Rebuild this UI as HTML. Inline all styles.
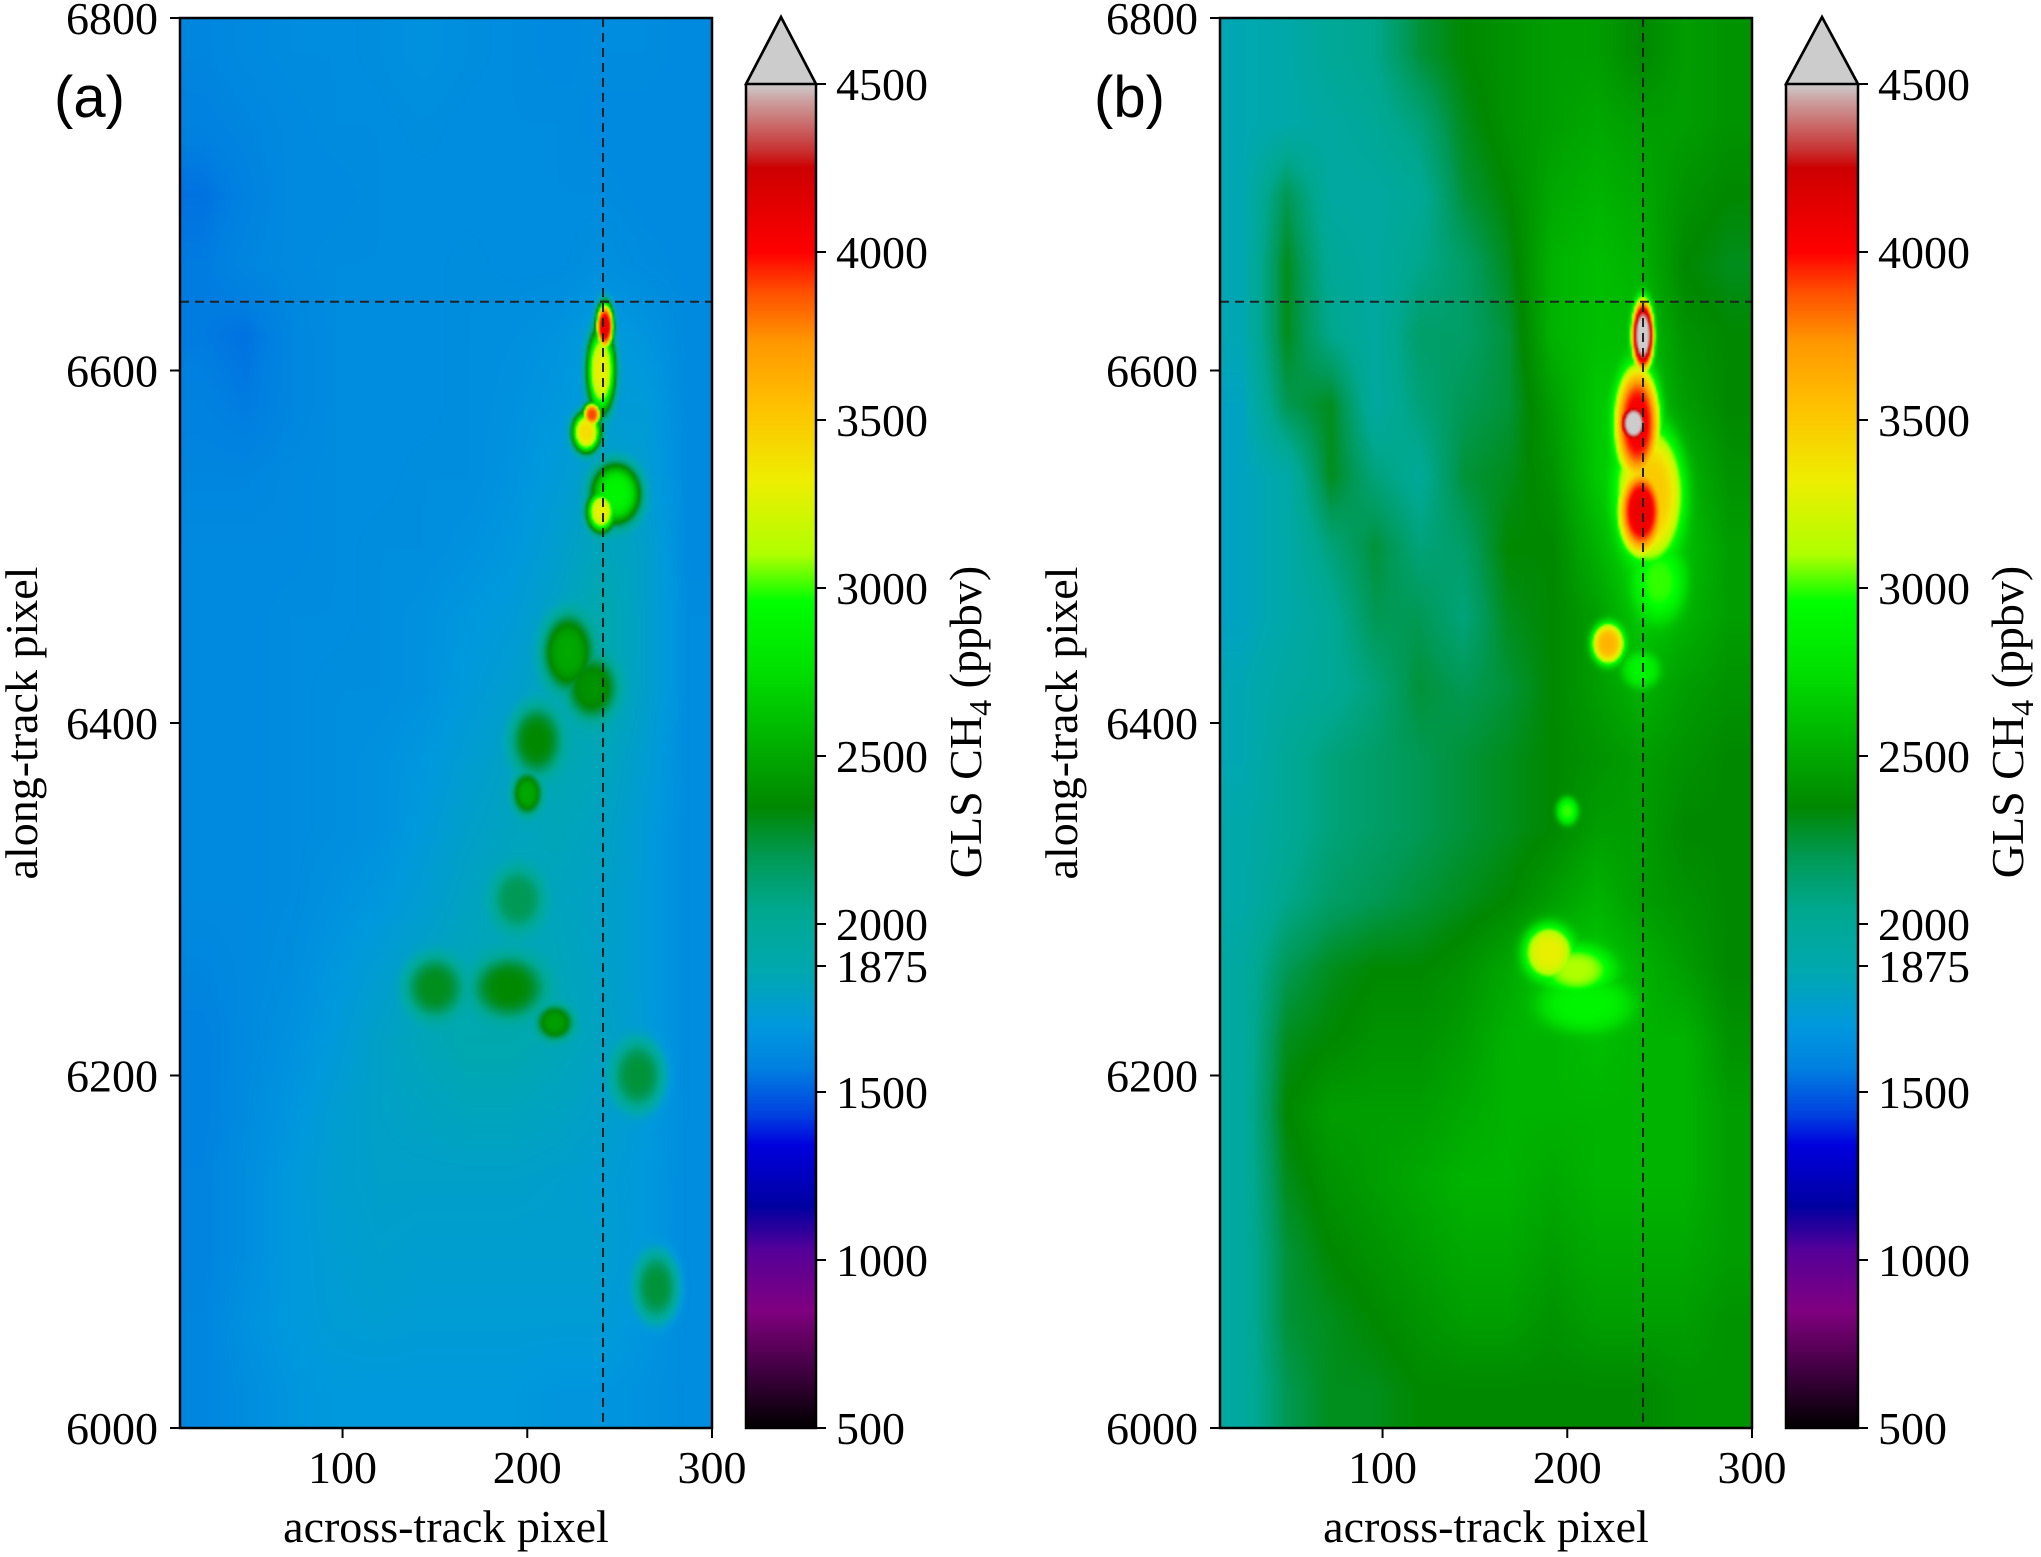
<!DOCTYPE html>
<html><head><meta charset="utf-8">
<style>
html,body{margin:0;padding:0;background:#fff;}
#root{position:relative;width:2041px;height:1557px;overflow:hidden;font-family:"Liberation Serif",serif;}
canvas{position:absolute;image-rendering:auto;}
svg{position:absolute;left:0;top:0;}
</style></head><body>
<div id="root">
<canvas id="hmA" width="266" height="705" style="left:180px;top:18px;width:532px;height:1410px"></canvas>
<canvas id="hmB" width="266" height="705" style="left:1220px;top:18px;width:532px;height:1410px"></canvas>
<canvas id="cbA" width="1" height="1344" style="left:746px;top:84px;width:70px;height:1344px"></canvas>
<canvas id="cbB" width="1" height="1344" style="left:1786px;top:84px;width:72px;height:1344px"></canvas>
<svg id="ov" width="2041" height="1557"></svg>
</div>
<script>
// ---- data ----
const xTicks=[100,200,300];
const yTicks=[6000,6200,6400,6600,6800];
const cbTicks=[500,1000,1500,1875,2000,2500,3000,3500,4000,4500];
const crossAcross=241;
const crossAlong=6639;
// background grids (rows from along 6780 down to 6020, cols across 24..288)
const gridA=[
[1600,1620,1630,1630,1640,1660,1640,1630,1620,1630,1630,1620],
[1580,1600,1620,1630,1630,1640,1630,1630,1630,1620,1620,1620],
[1540,1580,1620,1620,1630,1630,1630,1630,1630,1630,1620,1620],
[1560,1600,1620,1630,1630,1630,1640,1630,1630,1650,1630,1620],
[1560,1540,1600,1630,1630,1630,1640,1650,1670,1720,1680,1620],
[1580,1560,1600,1630,1630,1630,1640,1660,1690,1720,1720,1620],
[1600,1600,1620,1630,1630,1640,1640,1670,1720,1780,1740,1620],
[1620,1620,1620,1630,1640,1640,1660,1690,1750,1830,1770,1620],
[1620,1620,1630,1630,1640,1660,1690,1720,1790,1880,1770,1630],
[1620,1620,1630,1640,1640,1660,1710,1750,1830,1880,1770,1630],
[1620,1620,1630,1640,1660,1690,1740,1790,1850,1830,1740,1630],
[1620,1620,1630,1640,1660,1710,1770,1810,1830,1800,1720,1630],
[1620,1620,1630,1660,1690,1740,1800,1830,1810,1780,1720,1630],
[1600,1620,1640,1690,1740,1790,1830,1850,1830,1780,1720,1630],
[1580,1620,1660,1710,1780,1830,1870,1870,1840,1800,1720,1630],
[1580,1630,1680,1740,1780,1800,1820,1820,1800,1770,1710,1630],
[1590,1640,1700,1750,1770,1770,1770,1770,1760,1740,1700,1630],
[1590,1640,1700,1740,1760,1750,1750,1750,1750,1750,1700,1630],
[1600,1660,1700,1730,1740,1730,1730,1730,1730,1730,1680,1630],
[1600,1640,1680,1700,1700,1700,1700,1700,1680,1680,1660,1630]];
const gridB=[
[1850,1900,2000,2050,2250,2350,2400,2450,2450,2350,2450,2400],
[1850,1900,1950,2000,2100,2300,2400,2450,2500,2450,2450,2400],
[1850,2200,1950,1950,2000,2250,2350,2500,2550,2500,2400,2350],
[1850,2300,2000,1950,2050,2150,2300,2550,2600,2550,2350,2300],
[1850,2300,2050,1950,2150,2150,2250,2550,2600,2600,2400,2350],
[1800,2200,2300,1950,2100,2200,2250,2450,2650,2650,2450,2350],
[1800,1900,2300,2100,2000,2250,2300,2400,2650,2700,2550,2400],
[1800,1900,2100,2250,2100,2150,2350,2350,2550,2750,2600,2450],
[1800,1900,2000,2200,2200,2100,2300,2350,2450,2650,2550,2450],
[1850,1950,2000,2100,2250,2200,2250,2350,2450,2550,2450,2400],
[1850,2000,2100,2150,2200,2250,2300,2350,2400,2450,2400,2350],
[1900,2000,2100,2150,2200,2250,2300,2350,2450,2450,2350,2350],
[1900,2050,2150,2200,2250,2300,2350,2450,2550,2450,2400,2350],
[1950,2200,2300,2350,2350,2400,2500,2650,2650,2550,2450,2350],
[1950,2300,2350,2400,2400,2450,2550,2550,2600,2550,2550,2400],
[1950,2350,2450,2450,2450,2500,2550,2550,2550,2550,2550,2450],
[1950,2300,2400,2450,2500,2550,2550,2500,2550,2550,2550,2450],
[1950,2250,2350,2400,2450,2500,2500,2450,2500,2500,2500,2450],
[1950,2250,2300,2350,2400,2450,2450,2400,2450,2450,2450,2400],
[1950,2200,2300,2300,2350,2350,2350,2350,2350,2350,2400,2400]];
// plume blobs: across, along, peak ppbv, radius across, radius along
const blobsA=[[242,6625,4100,5,14],[240,6600,3300,8,25],[235,6575,3900,5,7],[232,6565,3400,8,12],[240,6520,3300,8,12],[248,6530,2900,14,18],[222,6440,2500,14,22],[235,6420,2400,14,18],[200,6360,2500,8,12],[205,6390,2350,14,20],[190,6250,2350,20,18],[150,6250,2300,16,18],[215,6230,2450,10,10],[260,6200,2250,14,20],[270,6080,2250,12,20],[195,6300,2200,14,18]];
const blobsB=[[241,6620,4600,6,20],[236,6570,4600,8,12],[238,6570,4050,12,32],[240,6520,4100,12,24],[245,6530,3500,18,38],[250,6480,3000,14,22],[222,6445,3600,9,12],[240,6430,2900,10,10],[200,6350,3000,6,8],[190,6270,3300,14,16],[205,6260,3100,20,14],[210,6240,2900,25,15]];
// colormap stops
const cmV=[500,670,850,1030,1160,1340,1430,1570,1700,1860,2040,2200,2350,2510,2740,2960,3100,3320,3550,3730,3880,4000,4250,4300,4450,4500];
const cmC=['#000000','#400040','#800080','#550099','#0000a0','#0000dd','#0040e0','#0080e0','#0099dd','#00a8b0','#00a890','#009955','#008800','#00aa00','#00dd00','#00ff00','#b0ff00','#eeee00','#ffbf00','#ff9900','#ff5000','#ff0000','#cc0000','#c83030','#cca0a0','#cccccc'];
// ---- axes ----
const X0=12,X1=300,Y0=6000,Y1=6800,TOP=18,BOT=1428,W=532;
const panels=[{L:180,cb:746,grid:gridA,blobs:blobsA,cv:'hmA',cbc:'cbA',lab:'(a)'},{L:1220,cb:1786,grid:gridB,blobs:blobsB,cv:'hmB',cbc:'cbB',lab:'(b)'}];
function hex(c){return [parseInt(c.substr(1,2),16),parseInt(c.substr(3,2),16),parseInt(c.substr(5,2),16)];}
const cmRGB=cmC.map(hex);
function cmap(v){if(v<=cmV[0])return cmRGB[0];if(v>=cmV[cmV.length-1])return cmRGB[cmRGB.length-1];
for(let i=1;i<cmV.length;i++){if(v<=cmV[i]){const t=(v-cmV[i-1])/(cmV[i]-cmV[i-1]);const a=cmRGB[i-1],b=cmRGB[i];return [a[0]+(b[0]-a[0])*t,a[1]+(b[1]-a[1])*t,a[2]+(b[2]-a[2])*t];}}}
function bg(grid,ax,al){const nc=grid[0].length,nr=grid.length;
let c=(ax-X0)/(X1-X0)*nc-0.5,r=(Y1-al)/(Y1-Y0)*nr-0.5;c=Math.max(0,Math.min(nc-1.001,c));r=Math.max(0,Math.min(nr-1.001,r));
const c0=Math.floor(c),r0=Math.floor(r),fc=c-c0,fr=r-r0;
return grid[r0][c0]*(1-fc)*(1-fr)+grid[r0][c0+1]*fc*(1-fr)+grid[r0+1][c0]*(1-fc)*fr+grid[r0+1][c0+1]*fc*fr;}
panels.forEach(p=>{
 const cv=document.getElementById(p.cv),ctx=cv.getContext('2d'),w=cv.width,h=cv.height,img=ctx.createImageData(w,h);
 for(let j=0;j<h;j++)for(let i=0;i<w;i++){
  const ax=X0+(i+0.5)/w*(X1-X0),al=Y1-(j+0.5)/h*(Y1-Y0);let v=bg(p.grid,ax,al),b=v;
  p.blobs.forEach(k=>{const dx=(ax-k[0])/k[3],dy=(al-k[1])/k[4],d=dx*dx+dy*dy;const val=b+(k[2]-b)*Math.exp(-d*d);if(val>v)v=val;});
  const c=cmap(v),o=(j*w+i)*4;img.data[o]=c[0];img.data[o+1]=c[1];img.data[o+2]=c[2];img.data[o+3]=255;}
 ctx.putImageData(img,0,0);
 const cb=document.getElementById(p.cbc),cc=cb.getContext('2d');
 for(let j=0;j<cb.height;j++){const v=4500-(j+0.5)/cb.height*4000,c=cmap(v);cc.fillStyle='rgb('+c.map(Math.round).join(',')+')';cc.fillRect(0,j,1,1);}
});
const ov=document.getElementById('ov'),NS='http://www.w3.org/2000/svg';
function el(t,a,txt){const e=document.createElementNS(NS,t);for(const k in a)e.setAttribute(k,a[k]);if(txt!==undefined)e.textContent=txt;ov.appendChild(e);return e;}
const CB_T=84,CB_B=1428;
panels.forEach((p,pi)=>{
 const sx=v=>p.L+(v-X0)/(X1-X0)*W, sy=v=>BOT-(v-Y0)/(Y1-Y0)*(BOT-TOP), scb=v=>CB_B-(v-500)/4000*(CB_B-CB_T);
 let e;
 e=el('line',{x1:sx(crossAcross),x2:sx(crossAcross),y1:TOP,y2:BOT,stroke:'#222','stroke-width':2,'stroke-dasharray':'9,6'});
 
 e=el('line',{x1:p.L,x2:p.L+W,y1:sy(crossAlong),y2:sy(crossAlong),stroke:'#222','stroke-width':2,'stroke-dasharray':'9,6'});
 
 e=el('rect',{x:p.L,y:TOP,width:W,height:BOT-TOP,fill:'none',stroke:'#000','stroke-width':2.5});
 
 xTicks.forEach(t=>{el('line',{x1:sx(t),x2:sx(t),y1:BOT,y2:BOT+10,stroke:'#000','stroke-width':2});
  e=el('text',{x:sx(t),y:1483,'font-size':46,'text-anchor':'middle'},t);});
 yTicks.forEach(t=>{el('line',{x1:p.L-10,x2:p.L,y1:sy(t),y2:sy(t),stroke:'#000','stroke-width':2});
  e=el('text',{x:p.L-22,y:sy(t)+16,'font-size':46,'text-anchor':'end'},t);});
 e=el('text',{x:p.L+W/2,y:1542,'font-size':46,'text-anchor':'middle'},'across-track pixel');
 const yx=p.L-143;
 e=el('text',{x:yx,y:(TOP+BOT)/2,'font-size':46,'text-anchor':'middle',transform:'rotate(-90 '+yx+' '+(TOP+BOT)/2+')'},'along-track pixel');
 e=el('text',{x:p.L-126,y:117,'font-size':58,'font-family':'Liberation Sans, sans-serif'},p.lab);
 const cw=pi?72:70,cr=p.cb+cw;
 e=el('path',{d:'M'+p.cb+' '+CB_T+' L'+(p.cb+cw/2)+' 17 L'+cr+' '+CB_T+' Z',fill:'#cccccc',stroke:'#000','stroke-width':2.5});
 
 e=el('path',{d:'M'+p.cb+' '+CB_T+' L'+(p.cb+cw/2)+' 17 L'+cr+' '+CB_T+' L'+cr+' '+CB_B+' L'+p.cb+' '+CB_B+' Z',fill:'none',stroke:'#000','stroke-width':2.5});
 
 cbTicks.forEach(t=>{el('line',{x1:cr,x2:cr+10,y1:scb(t),y2:scb(t),stroke:'#000','stroke-width':2});
  e=el('text',{x:cr+20,y:scb(t)+16,'font-size':46},t);});
 const tx=cr+165,ty=722;
 e=el('text',{x:tx,y:ty,'font-size':46,'text-anchor':'middle',transform:'rotate(-90 '+tx+' '+ty+')'});
 
 e.innerHTML='GLS CH<tspan font-size="32" dy="10">4</tspan><tspan dy="-10"> (ppbv)</tspan>';
});
</script>
</body></html>
